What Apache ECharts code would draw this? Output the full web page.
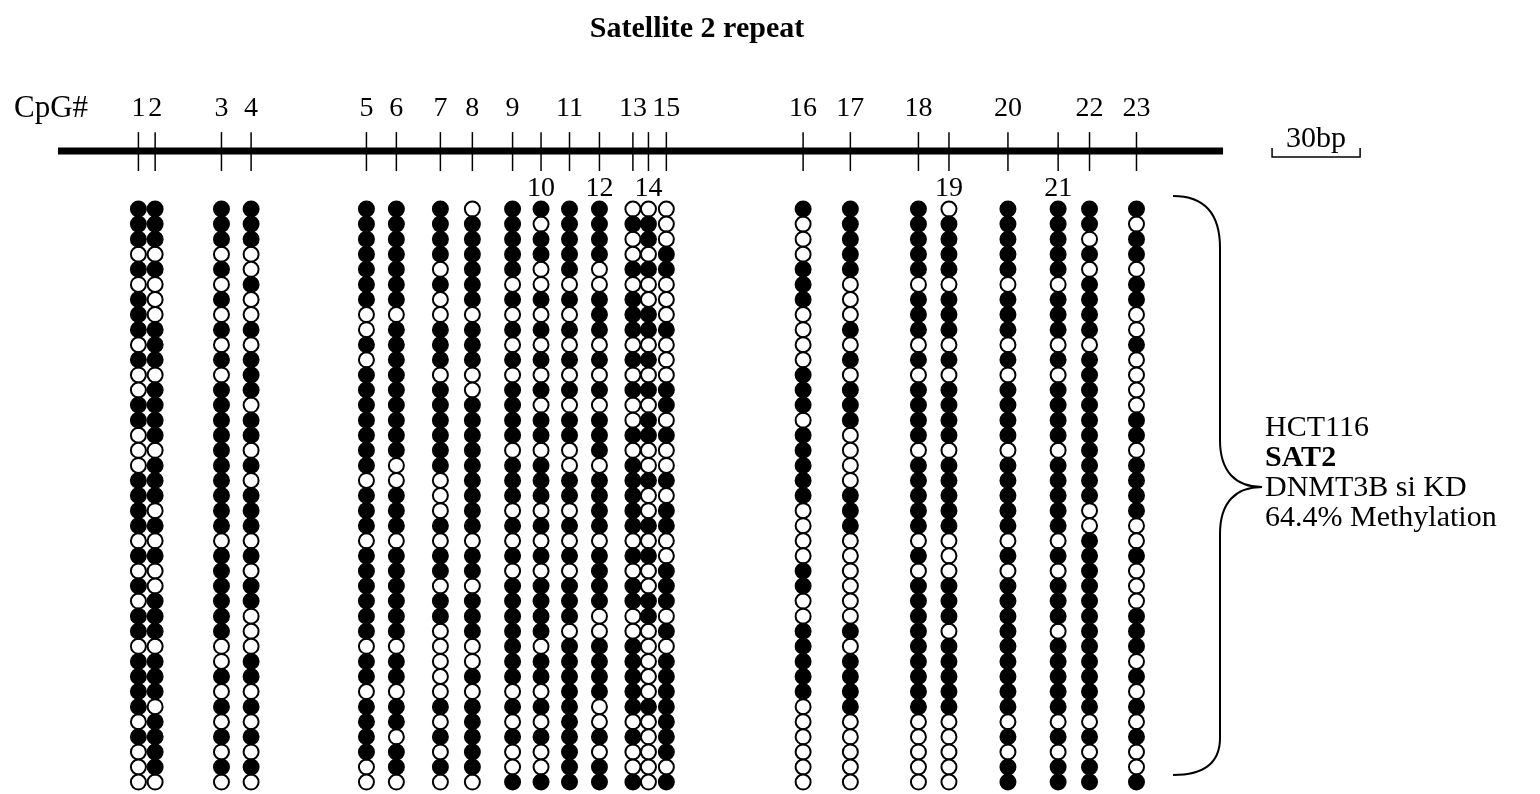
<!DOCTYPE html>
<html><head><meta charset="utf-8">
<script src="https://cdn.jsdelivr.net/npm/echarts@6/dist/echarts.min.js"></script>
<style>html,body{margin:0;padding:0;background:#fff}#c{width:1540px;height:794px}</style>
</head><body><div id="c"></div>
<script>
// ---- data ----
const cpgNumbers = [1,2,3,4,5,6,7,8,9,10,11,12,13,14,15,16,17,18,19,20,21,22,23];
const cpgPositionBp = [27.4,33.1,55.7,65.8,105.1,115.3,130.3,141.2,154.9,164.6,174.3,184.5,195.9,201.2,207.3,253.9,270.0,293.2,303.6,323.7,340.8,351.5,367.5];
const labelsBelow = [10,12,14,19,21];
const regionLengthBp = 397;
const scaleBarStartBp = 413.7;
const scaleBarLengthBp = 30;
const scaleBarLabel = '30bp';
// one string per CpG, one character per clone (row 1 = top); '1' methylated, '0' unmethylated
const methylationByCpG = [
  '11101011101001100011' + '1101010110111101000',
  '11101000111011110111' + '0101001110111011110',
  '11101010101011111111' + '1101111110010101010',
  '11100100101110110101' + '1101011000110101010',
  '11111110010111111101' + '1101111110110111100',
  '11111110111111111001' + '1101111110110110110',
  '11110100111011111100' + '0101101100000101010',
  '01111110111001111111' + '1101101110010111110',
  '11111010101011110111' + '0101011111110101001',
  '10110010101010110111' + '0101011110110101001',
  '11111010101010110011' + '0101011101111111111',
  '11110011101010111011' + '1101111001111001011',
  '01001011101010010111' + '1101011001111101001',
  '01101001101010110010' + '0101001100000100000',
  '00011000100011010010' + '1100111010111111101',
  '10001110000111011111' + '0000110011111000000',
  '11111000101011100001' + '1100000010111100000',
  '11111011101011110111' + '1101011111111100000',
  '01111011101011110111' + '1100011101111100000',
  '11111011101011110111' + '1101011111111101011',
  '11111011101011110111' + '1101011101111101011',
  '11010111101111111111' + '0011111111111101011',
  '10110110010000110111' + '1001000111010101001'
];
const titleText = 'Satellite 2 repeat';
const axisLabelText = 'CpG#';
const sampleLines = ['HCT116', 'SAT2', 'DNMT3B si KD', '64.4% Methylation'];

// ---- layout constants (row units on the y axis) ----
const BASELINE_Y = -2.85, TICK_TOP = -4.1, TICK_BOTTOM = -1.52;
const LABEL_ABOVE_Y = -5.63, LABEL_BELOW_Y = -0.33;
const SB_BOTTOM = -2.45, SB_TOP = -3.04, SB_LABEL = -3.65;
const FONT = '"Liberation Serif", "Times New Roman", serif';

const filled = [], open = [];
methylationByCpG.forEach((s, i) => {
  for (let r = 0; r < s.length; r++) {
    (s[r] === '1' ? filled : open).push([cpgPositionBp[i], r + 1]);
  }
});
const tickData = cpgPositionBp.map((x, i) => [x, cpgNumbers[i], labelsBelow.includes(cpgNumbers[i]) ? 1 : 0]);

const braceStyle = {stroke: '#000', lineWidth: 2, fill: null};
const chart = echarts.init(document.getElementById('c'), null, {renderer: 'canvas'});
chart.setOption({
  animation: false,
  backgroundColor: '#fff',
  grid: {left: 58, right: 0, top: 88.4, bottom: 4.4},
  xAxis: {type: 'value', min: 0, max: 505, show: false},
  yAxis: {type: 'value', min: -7, max: 39.5, inverse: true, show: false},
  graphic: [
    {type: 'text', x: 697, y: 29, style: {text: titleText, fontSize: 30, fontWeight: 'bold', fontFamily: FONT, fill: '#000', align: 'center', verticalAlign: 'middle'}},
    {type: 'text', x: 14, y: 109, style: {text: axisLabelText, fontSize: 31, fontFamily: FONT, fill: '#000', align: 'left', verticalAlign: 'middle'}},
    {type: 'bezierCurve', shape: {x1: 1173, y1: 196, cpx1: 1203, cpy1: 196, cpx2: 1220, cpy2: 212, x2: 1220, y2: 248}, style: braceStyle},
    {type: 'line', shape: {x1: 1220, y1: 248, x2: 1220, y2: 440}, style: braceStyle},
    {type: 'bezierCurve', shape: {x1: 1220, y1: 440, cpx1: 1220, cpy1: 472, cpx2: 1236, cpy2: 487, x2: 1262, y2: 487}, style: braceStyle},
    {type: 'bezierCurve', shape: {x1: 1262, y1: 487, cpx1: 1236, cpy1: 487, cpx2: 1220, cpy2: 502, x2: 1220, y2: 534}, style: braceStyle},
    {type: 'line', shape: {x1: 1220, y1: 534, x2: 1220, y2: 738}, style: braceStyle},
    {type: 'bezierCurve', shape: {x1: 1220, y1: 738, cpx1: 1220, cpy1: 764, cpx2: 1203, cpy2: 775, x2: 1173, y2: 775}, style: braceStyle},
    {type: 'text', x: 1265, y: 428, style: {text: sampleLines[0], fontSize: 30, fontFamily: FONT, fill: '#000', align: 'left', verticalAlign: 'middle'}},
    {type: 'text', x: 1265, y: 458, style: {text: sampleLines[1], fontSize: 30, fontWeight: 'bold', fontFamily: FONT, fill: '#000', align: 'left', verticalAlign: 'middle'}},
    {type: 'text', x: 1265, y: 488, style: {text: sampleLines[2], fontSize: 30, fontFamily: FONT, fill: '#000', align: 'left', verticalAlign: 'middle'}},
    {type: 'text', x: 1265, y: 518, style: {text: sampleLines[3], fontSize: 30, fontFamily: FONT, fill: '#000', align: 'left', verticalAlign: 'middle'}}
  ],
  series: [
    {
      type: 'line', data: [[0, BASELINE_Y], [regionLengthBp, BASELINE_Y]],
      symbol: 'none', lineStyle: {color: '#000', width: 7}, silent: true, z: 1
    },
    {
      type: 'custom', data: tickData, z: 2, silent: true,
      renderItem(params, api) {
        const x = api.value(0);
        const p1 = api.coord([x, TICK_TOP]);
        const p2 = api.coord([x, TICK_BOTTOM]);
        const lp = api.coord([x, api.value(2) === 1 ? LABEL_BELOW_Y : LABEL_ABOVE_Y]);
        return {type: 'group', children: [
          {type: 'line', shape: {x1: p1[0], y1: p1[1], x2: p2[0], y2: p2[1]}, style: {stroke: '#000', lineWidth: 1.5}},
          {type: 'text', x: lp[0], y: lp[1], style: {text: String(api.value(1)), fontSize: 28, fontFamily: FONT, fill: '#000', align: 'center', verticalAlign: 'middle'}}
        ]};
      }
    },
    {
      type: 'custom', data: [[scaleBarStartBp, scaleBarLengthBp]], z: 2, silent: true,
      renderItem(params, api) {
        const x0 = api.value(0), len = api.value(1);
        const a = api.coord([x0, SB_TOP]), b = api.coord([x0, SB_BOTTOM]);
        const c = api.coord([x0 + len, SB_BOTTOM]), d = api.coord([x0 + len, SB_TOP]);
        const t = api.coord([x0 + len / 2, SB_LABEL]);
        return {type: 'group', children: [
          {type: 'polyline', shape: {points: [a, b, c, d]}, style: {stroke: '#000', lineWidth: 1.5, fill: null}},
          {type: 'text', x: t[0], y: t[1], style: {text: scaleBarLabel, fontSize: 30, fontFamily: FONT, fill: '#000', align: 'center', verticalAlign: 'middle'}}
        ]};
      }
    },
    {
      type: 'scatter', data: open, symbol: 'circle', symbolSize: 15, z: 3, silent: true,
      itemStyle: {color: '#fff', borderColor: '#000', borderWidth: 2, opacity: 1}
    },
    {
      type: 'scatter', data: filled, symbol: 'circle', symbolSize: 15, z: 4, silent: true,
      itemStyle: {color: '#000', borderColor: '#000', borderWidth: 2, opacity: 1}
    }
  ]
});
</script>
</body></html>
